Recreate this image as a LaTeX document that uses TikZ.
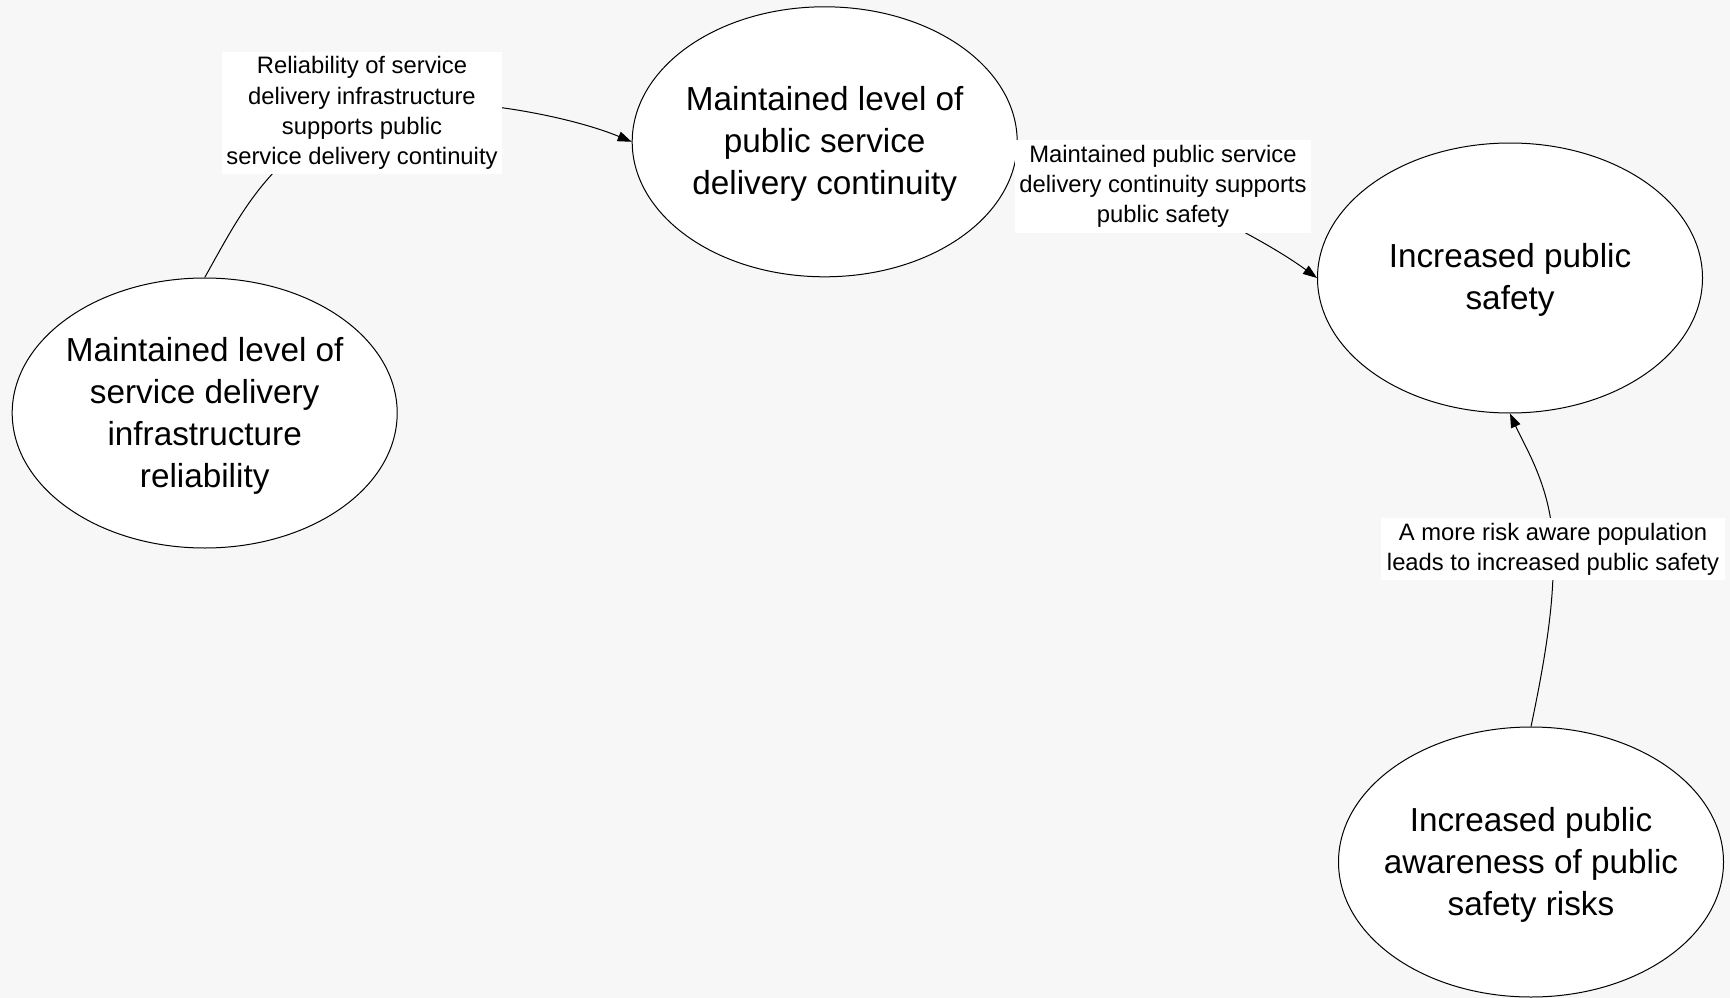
\documentclass[tikz,border=0pt]{standalone}
\usepackage{fontspec}
\setmainfont{Liberation Sans}
\usetikzlibrary{shapes.geometric,arrows.meta}
\pgfdeclarelayer{back}
\pgfdeclarelayer{links}
\pgfsetlayers{back,links,main}
\definecolor{paper}{RGB}{247,247,247}

\begin{document}
\begin{tikzpicture}[x=1pt,y=-1pt,
  state/.style={ellipse,draw=black,line width=1pt,fill=white,
    minimum width=385pt,minimum height=270pt,inner sep=0pt},
  statetext/.style={align=center,text=black,yshift=-2.5pt,
    font=\fontsize{33.3}{42}\selectfont},
  why/.style={fill=white,align=center,inner xsep=4pt,inner ysep=5pt,
    text=black,font=\fontsize{23.8}{30.2}\selectfont},
  link/.style={draw=black,line width=1pt,-{Triangle[length=14pt,width=10pt]}}]

\begin{pgfonlayer}{back}
  \fill[paper] (0,0) rectangle (1730,998);
\end{pgfonlayer}
\useasboundingbox (0,0) rectangle (1730,998);

% outcome states
\node[state] (e1) at (204.7,413) {};
\node[statetext] (t1) at (e1) {Maintained level of\\service delivery\\infrastructure\\reliability};
\node[state] (e2) at (824.7,141.8) {};
\node[statetext] (t2) at (e2) {Maintained level of\\public service\\delivery continuity};
\node[state] (e3) at (1510,278) {};
\node[statetext] (t3) at ([yshift=0.5pt]e3) {Increased public\\safety};
\node[state] (e4) at (1531,862) {};
\node[statetext] (t4) at (e4) {Increased public\\awareness of public\\safety risks};

% explanations on the links
\node[why] (l1) at (362,113) {Reliability of service\\delivery infrastructure\\supports public\\service delivery continuity};
\node[why] (l2) at (1163,186.5) {Maintained public service\\delivery continuity supports\\public safety};
\node[why,minimum width=344pt] (l3) at (1553,549) {A more risk aware population\\leads to increased public safety};

% causal links, drawn beneath the explanation boxes
\begin{pgfonlayer}{links}
  \draw[link] (e1.north) .. controls (240,215) and (270,150) .. (l1.center)
              .. controls (420,88) and (560,112) .. (e2.west);
  \draw[link] (e2.east) .. controls (1080,150) and (1245,225) .. (e3.west);
  \draw[link] (e4.north) .. controls (1545,660) and (1555,600) .. (l3.center)
              .. controls (1553,490) and (1525,447) .. (e3.south);
\end{pgfonlayer}
\end{tikzpicture}
\end{document}
